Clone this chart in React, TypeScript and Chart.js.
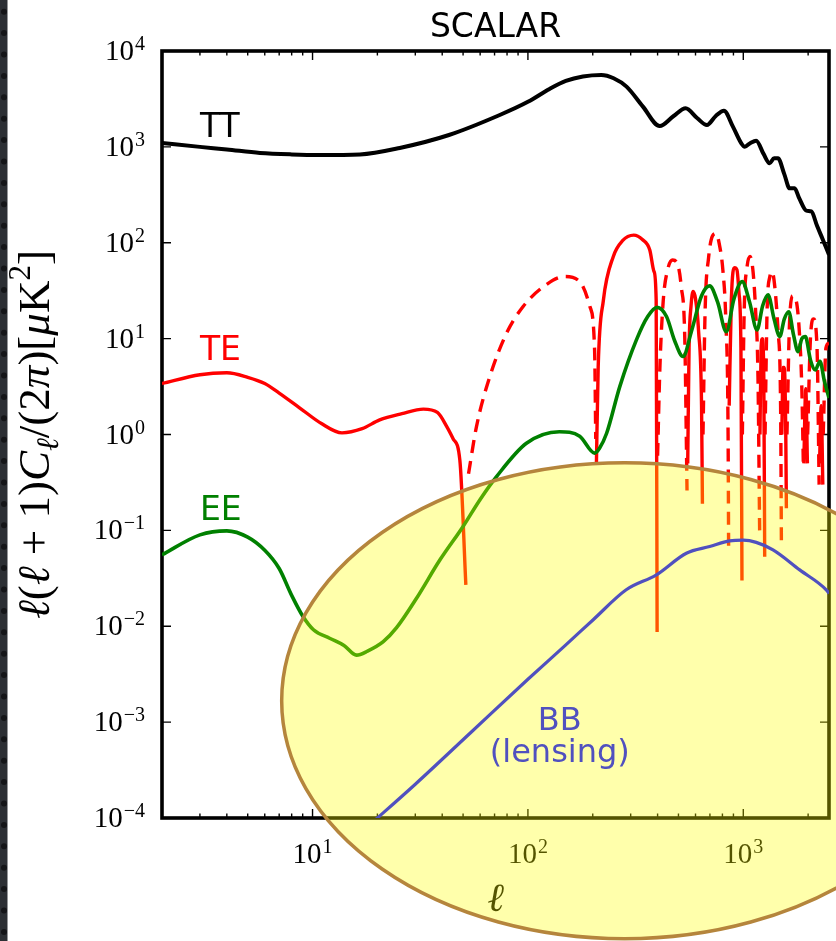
import React, { useEffect, useRef } from 'react';
import { Chart, registerables } from 'chart.js';

Chart.register(...registerables);

// Multipole range and power range (uK^2)
const ellRange = [2, 2500];
const powerRange = [1e-4, 1e4];

// Decade and minor tick positions
const yDecades = [-4, -3, -2, -1, 0, 1, 2, 3, 4];
const xDecades = [1, 2, 3];
const xMinor = [3, 4, 5, 6, 7, 8, 9, 20, 30, 40, 50, 60, 70, 80, 90, 200, 300, 400, 500, 600, 700, 800, 900, 2000];

// Temperature power spectrum [ell, D_ell]
const ttPoints: [number, number][] = [
  [2, 1100], [3, 1000], [4, 940], [5.7, 865], [8, 835], [10.8, 824], [16.6, 835], [25.4, 975],
  [43, 1330], [74, 2150], [100, 2950], [126, 4020], [150, 4870], [180, 5420], [219, 5620],
  [250, 5200], [287, 4250], [342, 2630], [409, 1650], [475, 2100], [540, 2525], [610, 2000],
  [678, 1690], [745, 2100], [813, 2385], [895, 1625], [979, 1090], [1016, 1005], [1080, 1100],
  [1148, 1160], [1240, 850], [1325, 675], [1390, 760], [1449, 760], [1550, 520], [1641, 370],
  [1730, 370], [1820, 290], [1963, 216], [2070, 212], [2200, 150], [2344, 107], [2500, 75],
];

// Temperature-polarisation cross spectrum (signed) [ell, D_ell]
const tePoints: [number, number][] = [
  [2, 3.4], [3, 4.2], [4, 4.4], [5, 3.95], [6, 3.4], [7, 2.7], [8.7, 1.9], [11, 1.3], [13.7, 1.04],
  [17, 1.15], [20.5, 1.42], [26, 1.65], [32.7, 1.84], [38, 1.7], [42, 1.21], [45, 0.9], [48.3, 0.54],
  [51.5, 0.027],
  [53, -0.39], [57.7, -1.21], [66.5, -4.0], [79.6, -11.4], [95, -21.6], [118, -34.8], [148, -44.4],
  [174, -39.3], [194, -21.6], [204, -7.6], [206.5, -0.9],
  [208, 0.5], [212, 5.1], [224, 25], [249, 71.6], [275, 105], [310, 120], [340, 108], [368, 84],
  [385, 50], [394, 25], [398, 0.0087],
  [400, -0.6], [410, -5], [425, -25], [445, -52], [470, -66], [495, -60], [515, -35], [535, -10],
  [548, -0.26],
  [552, 0.5], [560, 8], [572, 22], [585, 31], [600, 26], [620, 12], [640, 2], [646, 0.19],
  [650, -1], [665, -20], [690, -70], [720, -118], [747, -125], [775, -95], [805, -50], [830, -15],
  [850, -1], [855, -0.057],
  [860, 2], [880, 25], [910, 55], [935, 52], [955, 30], [975, 8], [986, 0.03],
  [990, -1], [1010, -20], [1040, -55], [1075, -72], [1110, -50], [1140, -20], [1170, -4], [1191, -0.1],
  [1195, 1], [1210, 8], [1225, 10], [1245, 4], [1257, 0.053],
  [1262, -1], [1290, -20], [1330, -45], [1360, -50], [1400, -35], [1450, -12], [1490, -2], [1503, -0.07],
  [1510, 1], [1530, 5], [1550, 5], [1575, 1], [1585, 0.17],
  [1595, -1], [1640, -15], [1700, -28], [1760, -25], [1820, -12], [1870, -3], [1900, -0.5],
  [1910, 0.5], [1950, 3], [1985, 0.5],
  [1990, -1], [2050, -10], [2120, -16], [2200, -8], [2250, -0.3],
  [2260, 0.5], [2300, 2], [2340, 0.3],
  [2350, -1], [2420, -8], [2500, -9],
];

// E-mode polarisation spectrum [ell, D_ell]
const eePoints: [number, number][] = [
  [2, 0.0556], [3, 0.0898], [4, 0.0988], [5, 0.085], [6, 0.062], [7, 0.04], [8, 0.021], [9, 0.0128],
  [10.1, 0.0092], [12, 0.0075], [14, 0.0063], [16, 0.005], [18, 0.0055], [21.3, 0.0069], [24.5, 0.0096],
  [30.4, 0.0196], [39, 0.049], [50, 0.11], [59.8, 0.208], [71.5, 0.364], [98.4, 0.81], [140, 1.07],
  [174, 0.96], [204, 0.64], [215, 0.72], [232, 1.03], [267, 3.16], [319, 9.7], [360, 17], [398, 21.2],
  [440, 17], [480, 9.5], [525, 6.5], [575, 12], [640, 28], [698, 35.5], [760, 24], [834, 11.8],
  [905, 26], [988, 39.3], [1070, 24], [1158, 12.3], [1230, 22], [1303, 28.6], [1390, 16], [1477, 10.5],
  [1550, 16], [1625, 19.1], [1710, 11], [1796, 7.3], [1870, 10], [1942, 10.5], [2050, 6], [2158, 4.7],
  [2270, 5.8], [2380, 3.6], [2500, 2.4],
];

// Lensing B-mode spectrum [ell, D_ell]
const bbPoints: [number, number][] = [
  [18, 8.1e-5], [30, 2.25e-4], [54, 7.7e-4], [100, 0.0028], [150, 0.0064], [201, 0.0117], [286, 0.024],
  [395, 0.0344], [544, 0.0578], [698, 0.0678], [865, 0.0776], [1000, 0.079], [1148, 0.075],
  [1374, 0.0626], [1828, 0.0387], [2427, 0.024], [2500, 0.022],
];

// Curve labels placed in data coordinates (left edge, baseline)
const curveLabels = [
  { text: 'TT', ell: 3.0, val: 1268, color: '#000000' },
  { text: 'TE', ell: 3.0, val: 6.0, color: '#ff0000' },
  { text: 'EE', ell: 3.0, val: 0.129, color: '#008000' },
];
const lensLines = [
  { text: 'BB', val: 8.3e-4 },
  { text: '(lensing)', val: 3.8e-4 },
];
const lensLabelEll = 140.6;

// Highlighted region: centre in data units, half-axes in decades
const highlight = { ell: 281, val: 1.67e-3, rxDec: 1.592, ryDec: 2.482 };

const SERIF = '"Liberation Serif", "DejaVu Serif", serif';
const SANS = '"DejaVu Sans", sans-serif';
const RED = '#ff0000';
const GREEN = '#008000';
const BLUE = '#5050bf';

const toXY = (pts: [number, number][]) => pts.map(([x, y]) => ({ x, y }));
const tePositive = tePoints.map(([x, y]) => ({ x, y: y > 0 ? y : null }));
const teNegative = tePoints.map(([x, y]) => ({ x, y: y < 0 ? -y : null }));

function drawPow(ctx: CanvasRenderingContext2D, exp: number, x: number, base: number, align: 'right' | 'center') {
  const big = 29;
  const small = 20;
  const sup = exp < 0 ? '\u2212' + Math.abs(exp) : String(exp);
  ctx.font = `${big}px ${SERIF}`;
  const wb = ctx.measureText('10').width;
  ctx.font = `${small}px ${SERIF}`;
  const ws = ctx.measureText(sup).width;
  const total = wb + 1 + ws;
  const x0 = align === 'right' ? x - total : x - total / 2;
  ctx.textAlign = 'left';
  ctx.textBaseline = 'alphabetic';
  ctx.font = `${big}px ${SERIF}`;
  ctx.fillText('10', x0, base);
  ctx.font = `${small}px ${SERIF}`;
  ctx.fillText(sup, x0 + wb + 1, base - 10);
}

type Piece = { t: string; it?: boolean; sub?: boolean; sup?: boolean };
const yTitle: Piece[] = [
  { t: '\u2113', it: true }, { t: '(' }, { t: '\u2113', it: true }, { t: ' + 1)' }, { t: 'C', it: true },
  { t: '\u2113', it: true, sub: true }, { t: '/(2' }, { t: '\u03c0', it: true }, { t: ')[' },
  { t: '\u03bc', it: true }, { t: 'K' }, { t: '2', sup: true }, { t: ']' },
];
const yTitleLength = 370;

const decor = {
  id: 'decor',
  beforeDraw(chart: any) {
    const { ctx, height } = chart;
    ctx.save();
    ctx.fillStyle = '#ffffff';
    ctx.fillRect(0, 0, chart.width, height);
    // dark dotted border strip
    ctx.fillStyle = '#2c2f34';
    ctx.fillRect(0, 0, 7.5, height);
    ctx.fillStyle = '#141518';
    for (let y = 11.7; y < height; y += 21.4) {
      ctx.beginPath();
      ctx.arc(4, y, 3, 0, Math.PI * 2);
      ctx.fill();
    }
    ctx.restore();
  },
  beforeDatasetsDraw(chart: any) {
    const { ctx, chartArea: a, scales } = chart;
    const xs = scales.x;
    const ys = scales.y;
    ctx.save();
    ctx.strokeStyle = '#000';
    ctx.fillStyle = '#000';
    // frame
    ctx.lineWidth = 3.6;
    ctx.lineJoin = 'miter';
    ctx.strokeRect(a.left, a.top, a.right - a.left, a.bottom - a.top);
    // ticks
    ctx.lineWidth = 1.4;
    ctx.beginPath();
    for (const e of yDecades) {
      const py = ys.getPixelForValue(Math.pow(10, e));
      ctx.moveTo(a.left, py); ctx.lineTo(a.left + 9, py);
      ctx.moveTo(a.right, py); ctx.lineTo(a.right - 9, py);
    }
    for (const e of xDecades) {
      const px = xs.getPixelForValue(Math.pow(10, e));
      ctx.moveTo(px, a.top); ctx.lineTo(px, a.top + 9);
      ctx.moveTo(px, a.bottom); ctx.lineTo(px, a.bottom - 9);
    }
    for (const v of xMinor) {
      const px = xs.getPixelForValue(v);
      ctx.moveTo(px, a.top); ctx.lineTo(px, a.top + 4.5);
      ctx.moveTo(px, a.bottom); ctx.lineTo(px, a.bottom - 4.5);
    }
    ctx.stroke();
    // tick labels
    for (const e of yDecades) {
      const py = ys.getPixelForValue(Math.pow(10, e));
      drawPow(ctx, e, a.left - 17, py + 9, 'right');
    }
    for (const e of xDecades) {
      const px = xs.getPixelForValue(Math.pow(10, e));
      drawPow(ctx, e, px, a.bottom + 45, 'center');
    }
    // x title
    ctx.font = `italic 40px ${SERIF}`;
    ctx.textAlign = 'center';
    ctx.fillText('\u2113', (a.left + a.right) / 2, a.bottom + 93);
    // panel title
    ctx.font = `33px ${SANS}`;
    ctx.fillText('SCALAR', (a.left + a.right) / 2, 37);
    // y title, sized to its span
    const fontFor = (p: Piece, s: number) =>
      `${p.it ? 'italic ' : ''}${p.sub || p.sup ? Math.round(s * 0.7) : s}px ${SERIF}`;
    const measure = (s: number) => {
      let w = 0;
      for (const p of yTitle) { ctx.font = fontFor(p, s); w += ctx.measureText(p.t).width; }
      return w;
    };
    const size = Math.round(30 * yTitleLength / measure(30));
    const total = measure(size);
    ctx.translate(49, (a.top + a.bottom) / 2);
    ctx.rotate(-Math.PI / 2);
    ctx.textAlign = 'left';
    let cx = -total / 2;
    for (const p of yTitle) {
      ctx.font = fontFor(p, size);
      const dy = p.sub ? size * 0.2 : p.sup ? -size * 0.42 : 0;
      ctx.fillText(p.t, cx, dy);
      cx += ctx.measureText(p.t).width;
    }
    ctx.setTransform(1, 0, 0, 1, 0, 0);
    // curve labels
    ctx.font = `33px ${SANS}`;
    ctx.textAlign = 'left';
    for (const l of curveLabels) {
      ctx.fillStyle = l.color;
      ctx.fillText(l.text, xs.getPixelForValue(l.ell), ys.getPixelForValue(l.val));
    }
    ctx.restore();
  },
  beforeDatasetDraw(chart: any, args: any) {
    if (chart.data.datasets[args.index].label !== 'BB') return;
    const { ctx, scales } = chart;
    const xs = scales.x;
    const ys = scales.y;
    const lx = Math.log10(highlight.ell);
    const ly = Math.log10(highlight.val);
    const cxp = xs.getPixelForValue(highlight.ell);
    const cyp = ys.getPixelForValue(highlight.val);
    const rx = xs.getPixelForValue(Math.pow(10, lx + highlight.rxDec)) - cxp;
    const ry = cyp - ys.getPixelForValue(Math.pow(10, ly + highlight.ryDec));
    ctx.save();
    ctx.beginPath();
    ctx.ellipse(cxp, cyp, rx, ry, 0, 0, Math.PI * 2);
    ctx.fillStyle = 'rgba(255, 255, 0, 0.33)';
    ctx.fill();
    ctx.lineWidth = 3.5;
    ctx.strokeStyle = '#b5853c';
    ctx.stroke();
    ctx.restore();
  },
  afterDatasetsDraw(chart: any) {
    const { ctx, scales } = chart;
    ctx.save();
    ctx.font = `32px ${SANS}`;
    ctx.textAlign = 'center';
    ctx.fillStyle = BLUE;
    const px = scales.x.getPixelForValue(lensLabelEll);
    for (const l of lensLines) ctx.fillText(l.text, px, scales.y.getPixelForValue(l.val));
    ctx.restore();
  },
};

export default function App() {
  const ref = useRef<HTMLCanvasElement>(null);
  useEffect(() => {
    if (!ref.current) return;
    const common = { pointRadius: 0, fill: false, cubicInterpolationMode: 'monotone' as const, spanGaps: false };
    const chart = new Chart(ref.current, {
      type: 'line',
      data: {
        datasets: [
          { label: 'TT', data: toXY(ttPoints), borderColor: '#000000', borderWidth: 4, order: 5, ...common },
          { label: 'TE+', data: tePositive, borderColor: RED, borderWidth: 3.4, order: 4, ...common },
          { label: 'TE-', data: teNegative, borderColor: RED, borderWidth: 3.4, borderDash: [13, 8], order: 3, ...common },
          { label: 'EE', data: toXY(eePoints), borderColor: GREEN, borderWidth: 3.6, order: 2, ...common },
          { label: 'BB', data: toXY(bbPoints), borderColor: BLUE, borderWidth: 3.2, order: 1, ...common },
        ],
      },
      options: {
        responsive: false,
        maintainAspectRatio: false,
        devicePixelRatio: 1,
        animation: false,
        layout: { padding: { left: 162, right: 7, top: 51, bottom: 123 } },
        plugins: { legend: { display: false }, tooltip: { enabled: false }, title: { display: false } },
        scales: {
          x: {
            type: 'logarithmic', min: ellRange[0], max: ellRange[1], bounds: 'data', display: false,
          },
          y: {
            type: 'logarithmic', min: powerRange[0], max: powerRange[1], bounds: 'data', display: false,
          },
        },
      },
      plugins: [decor],
    });
    return () => chart.destroy();
  }, []);
  return (
    <div style={{ position: 'fixed', left: 0, top: 0, width: 836, height: 941 }}>
      <canvas ref={ref} width={836} height={941} style={{ display: 'block' }} />
    </div>
  );
}
